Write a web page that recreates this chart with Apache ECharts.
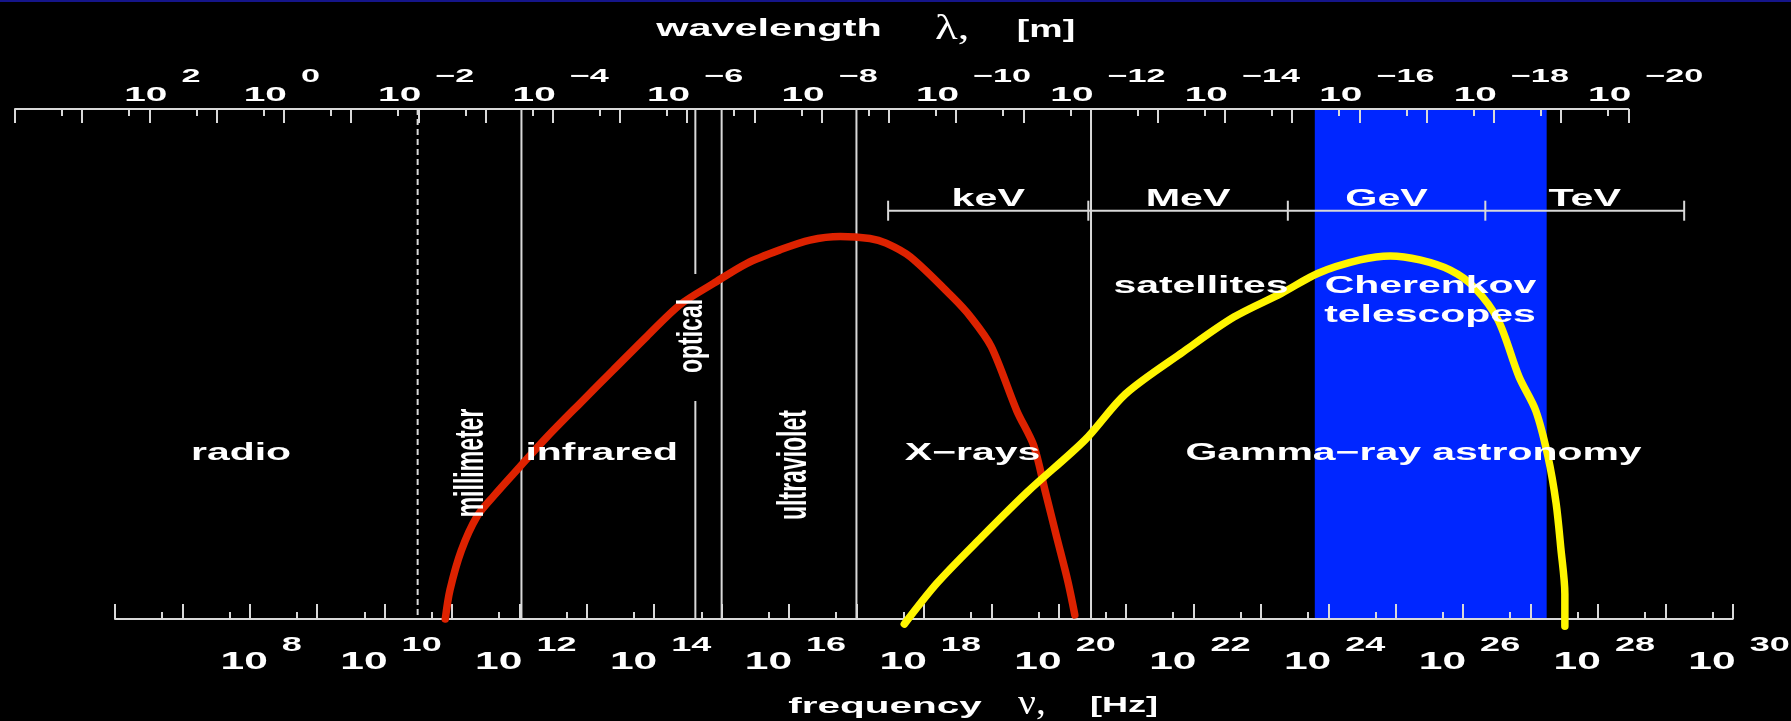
<!DOCTYPE html>
<html>
<head>
<meta charset="utf-8">
<script src="https://cdn.jsdelivr.net/npm/echarts@6/dist/echarts.min.js"></script>
<style>
  html, body { margin: 0; padding: 0; background: #000; }
  #chart { width: 1791px; height: 721px; }
</style>
</head>
<body>
<div id="chart"></div>
<script>
// ---- data (x values are log10 of frequency in Hz, or log10 of wavelength in m) ----
const freqMajorTicks = [6, 7, 8, 9, 10, 11, 12, 13, 14, 15, 16, 17, 18, 19, 20, 21, 22, 23, 24, 25, 26, 27, 28, 29, 30];
const freqMinorTicks = freqMajorTicks.slice(0, -1).map(n => n + Math.log10(5));      // 5 x 10^n Hz
const freqLabelExponents = [8, 10, 12, 14, 16, 18, 20, 22, 24, 26, 28, 30];

const waveMajorTicks = [4, 3, 2, 1, 0, -1, -2, -3, -4, -5, -6, -7, -8, -9, -10, -11, -12, -13, -14, -15, -16, -17, -18, -19, -20];
const waveMinorTicks = waveMajorTicks.slice(1).map(n => n + Math.log10(2));           // 2 x 10^n m
const waveLabelExponents = [2, 0, -2, -4, -6, -8, -10, -12, -14, -16, -18, -20];

const bandNames = ['radio', 'millimeter', 'infrared', 'optical', 'ultraviolet', 'X\u2212rays', 'Gamma\u2212ray astronomy'];
const bandEdges = [10.49, 12.03, 14.61, 15.00, 17.00, 20.48];          // log10 Hz
const cherenkovRange = [23.80, 27.24];                                  // log10 Hz

const energyUnits = ['keV', 'MeV', 'GeV', 'TeV'];
const energyEdges = [17.47, 20.44, 23.40, 26.33, 29.28];               // log10 Hz

const instrumentNames = ['satellites', 'Cherenkov', 'telescopes'];

// relative emission, 0 = frequency axis, 100 = wavelength axis
const thermalCurve = [
  [10.90, 0.0], [10.97, 5.7], [11.14, 13.5], [11.37, 20.1], [11.61, 24.0], [12.01, 29.9],
  [12.41, 35.7], [12.90, 42.3], [13.39, 48.8], [13.89, 55.4], [14.38, 61.6], [14.88, 65.8],
  [15.37, 69.7], [15.87, 72.4], [16.31, 74.3], [16.76, 75.0], [17.20, 74.6], [17.44, 73.7],
  [17.80, 71.0], [18.42, 63.2], [18.69, 59.3], [19.00, 53.4], [19.38, 40.8], [19.63, 34.0],
  [19.80, 25.1], [19.97, 16.1], [20.14, 7.2], [20.24, 0.8]
];
const gammaCurve = [
  [17.71, -1.0], [18.20, 7.1], [18.86, 16.1], [19.55, 25.1], [20.39, 35.1], [20.99, 44.1],
  [21.85, 52.4], [22.60, 59.2], [23.31, 63.9], [23.85, 67.8], [24.47, 70.4], [24.92, 71.2],
  [25.36, 70.4], [25.81, 68.4], [26.16, 65.1], [26.52, 58.6], [26.83, 47.5], [27.08, 40.8],
  [27.26, 31.8], [27.38, 22.7], [27.45, 13.9], [27.51, 4.9], [27.51, -1.4]
];

// ---- styling ----
const LINE = '#d9d9d9';
const TEXT = '#ffffff';
const SANS = '"Liberation Sans", Arial, Helvetica, sans-serif';
const SERIF = '"Liberation Serif", "Times New Roman", serif';
const WORD_SX = 1.78;   // wide lettering
const DIGIT_SX = 1.85;

function textStyle(text, size, align, family, weight) {
  return {
    text: text,
    fill: TEXT,
    font: (weight || 'bold') + ' ' + size + 'px ' + (family || SANS),
    align: align, textAlign: align,
    verticalAlign: 'middle', textVerticalAlign: 'middle'
  };
}

function label(text, x, y, size, opt) {
  opt = opt || {};
  return {
    type: 'text', silent: true, z: 50,
    x: x, y: y,
    rotation: opt.rotation || 0,
    scaleX: opt.sx != null ? opt.sx : WORD_SX,
    scaleY: opt.sy != null ? opt.sy : 1,
    style: textStyle(text, size, opt.align || 'center', opt.family, opt.weight)
  };
}

function axisCommon(extra) {
  return Object.assign({
    type: 'value',
    splitLine: { show: false },
    axisLabel: { show: false },
    axisPointer: { show: false },
    z: 4
  }, extra);
}

// "10" with a raised exponent, drawn at each labelled decade
function powerLabels(exponents, xAxisIndex, yAxisIndex, lay) {
  return {
    type: 'custom', xAxisIndex: xAxisIndex, yAxisIndex: yAxisIndex,
    silent: true, clip: false, z: 6,
    data: exponents.map(e => [e, 0]),
    renderItem: function (params, api) {
      const e = api.value(0);
      const x = api.coord([e, 0])[0] + 3 + (params.dataIndex === 0 ? 15 : 0);
      const sup = e < 0 ? '\u2212' + (-e) : String(e);
      return {
        type: 'group',
        children: [
          { type: 'text', x: x, y: lay.baseY, scaleX: DIGIT_SX,
            style: textStyle('10', lay.baseSize, 'right') },
          { type: 'text', x: x + 14, y: lay.supY, scaleX: DIGIT_SX,
            style: textStyle(sup, lay.supSize, 'left') }
        ]
      };
    }
  };
}

const chart = echarts.init(document.getElementById('chart'), null, { renderer: 'canvas', width: 1791, height: 721 });

const ENERGY_BAR_Y = 210.7;

const option = {
  backgroundColor: '#000000',
  animation: false,
  grid: [
    { left: 115, right: 58.3, top: 109, bottom: 102, outerBoundsMode: 'none', containLabel: false },
    { left: 15, right: 162.7, top: 109, bottom: 102, outerBoundsMode: 'none', containLabel: false }
  ],
  xAxis: [
    axisCommon({
      gridIndex: 0, min: 6, max: 30, position: 'bottom',
      axisLine: { show: true, onZero: false, lineStyle: { color: LINE, width: 2 } },
      axisTick: { show: true, inside: true, length: 15, customValues: freqMajorTicks, lineStyle: { color: LINE, width: 2 } }
    }),
    axisCommon({
      gridIndex: 0, min: 6, max: 30, position: 'bottom',
      axisLine: { show: false, onZero: false },
      axisTick: { show: true, inside: true, length: 7, customValues: freqMinorTicks, lineStyle: { color: LINE, width: 2 } }
    }),
    axisCommon({
      gridIndex: 1, min: -20, max: 4, inverse: true, position: 'top',
      axisLine: { show: true, onZero: false, lineStyle: { color: LINE, width: 2 } },
      axisTick: { show: true, inside: true, length: 14, customValues: waveMajorTicks, lineStyle: { color: LINE, width: 2 } }
    }),
    axisCommon({
      gridIndex: 1, min: -20, max: 4, inverse: true, position: 'top',
      axisLine: { show: false, onZero: false },
      axisTick: { show: true, inside: true, length: 7, customValues: waveMinorTicks, lineStyle: { color: LINE, width: 2 } }
    })
  ],
  yAxis: [
    { type: 'value', gridIndex: 0, min: 0, max: 100, show: false },
    { type: 'value', gridIndex: 1, min: 0, max: 100, show: false }
  ],
  graphic: [
    { type: 'rect', silent: true, z: 50, shape: { x: 0, y: 0, width: 1791, height: 2 }, style: { fill: '#15158a' } },

    // axis titles
    label('wavelength', 769, 29.3, 23, { sx: 1.8 }),
    label('\u03bb,', 935, 29.6, 36, { align: 'left', family: SERIF, weight: 'normal', sx: 1.3 }),
    label('[m]', 1046, 30.5, 23, { sx: 1.63 }),
    label('frequency', 885, 706.7, 22, { sx: 1.84 }),
    label('\u03bd,', 1018, 704.6, 36, { align: 'left', family: SERIF, weight: 'normal', sx: 1.1 }),
    label('[Hz]', 1124, 705.8, 22, { sx: 1.64 }),

    // spectral bands
    label(bandNames[0], 241, 453.7, 23),
    label(bandNames[1], 472, 463, 23, { rotation: Math.PI / 2, sx: 1, sy: WORD_SX }),
    label(bandNames[2], 601.7, 453.7, 23),
    label(bandNames[3], 692, 336, 23, { rotation: Math.PI / 2, sx: 1, sy: 1.5 }),
    label(bandNames[4], 794.5, 465, 23, { rotation: Math.PI / 2, sx: 1, sy: WORD_SX }),
    label(bandNames[5], 972.6, 453.7, 23),
    label(bandNames[6], 1413.5, 453.7, 23),

    // instruments
    label(instrumentNames[0], 1201, 287, 23),
    label(instrumentNames[1], 1430.5, 287, 23),
    label(instrumentNames[2], 1430, 315.3, 23)
  ],
  series: [
    // Cherenkov telescope energy range
    {
      type: 'custom', xAxisIndex: 0, yAxisIndex: 0, silent: true, z: 1,
      data: [cherenkovRange],
      renderItem: function (params, api) {
        const p0 = api.coord([api.value(0), 100]);
        const p1 = api.coord([api.value(1), 0]);
        return { type: 'rect', shape: { x: p0[0], y: p0[1], width: p1[0] - p0[0], height: p1[1] - p0[1] },
                 style: { fill: '#0026ff' } };
      }
    },
    // band boundaries
    {
      type: 'custom', xAxisIndex: 0, yAxisIndex: 0, silent: true, z: 3,
      data: bandEdges.map(v => [v, 0]),
      renderItem: function (params, api) {
        const x = api.coord([api.value(0), 0])[0];
        const yTop = api.coord([0, 100])[1];
        const yBot = api.coord([0, 0])[1];
        const st = { stroke: LINE, lineWidth: 2 };
        if (params.dataIndex === 0) {
          return { type: 'line', shape: { x1: x, y1: yTop, x2: x, y2: yBot },
                   style: { stroke: LINE, lineWidth: 2, lineDash: [6, 4] } };
        }
        if (params.dataIndex === 2) {   // broken around the "optical" lettering
          return { type: 'group', children: [
            { type: 'line', shape: { x1: x, y1: yTop, x2: x, y2: 274 }, style: st },
            { type: 'line', shape: { x1: x, y1: 401, x2: x, y2: yBot }, style: st }
          ] };
        }
        return { type: 'line', shape: { x1: x, y1: yTop, x2: x, y2: yBot }, style: st };
      }
    },
    // energy scale
    {
      type: 'custom', xAxisIndex: 0, yAxisIndex: 0, silent: true, clip: false, z: 6,
      data: energyEdges.map(v => [v, 0]),
      renderItem: function (params, api) {
        const i = params.dataIndex;
        const x = api.coord([api.value(0), 0])[0];
        const y = ENERGY_BAR_Y;
        const st = { stroke: LINE, lineWidth: 2 };
        const children = [{ type: 'line', shape: { x1: x, y1: y - 10, x2: x, y2: y + 10 }, style: st }];
        if (i < energyEdges.length - 1) {
          const xn = api.coord([energyEdges[i + 1], 0])[0];
          children.push({ type: 'line', shape: { x1: x, y1: y, x2: xn, y2: y }, style: st });
          children.push({ type: 'text', x: (x + xn) / 2, y: y - 11.5, scaleX: 1.72,
                          style: textStyle(energyUnits[i], 24, 'center') });
        }
        return { type: 'group', children: children };
      }
    },
    // decade labels
    powerLabels(freqLabelExponents, 0, 0, { baseY: 662.7, supY: 645.7, baseSize: 23, supSize: 19.5 }),
    powerLabels(waveLabelExponents, 2, 1, { baseY: 95.2, supY: 76.7, baseSize: 21, supSize: 18.5 }),
    // spectra
    {
      type: 'line', xAxisIndex: 0, yAxisIndex: 0, data: thermalCurve,
      showSymbol: false, smooth: 0.3, clip: false, z: 10, silent: true,
      lineStyle: { color: '#dd2200', width: 7.5, cap: 'round', join: 'round' }
    },
    {
      type: 'line', xAxisIndex: 0, yAxisIndex: 0, data: gammaCurve,
      showSymbol: false, smooth: 0.3, clip: false, z: 10, silent: true,
      lineStyle: { color: '#fff500', width: 7.5, cap: 'round', join: 'round' }
    }
  ]
};

chart.setOption(option);
</script>
</body>
</html>
